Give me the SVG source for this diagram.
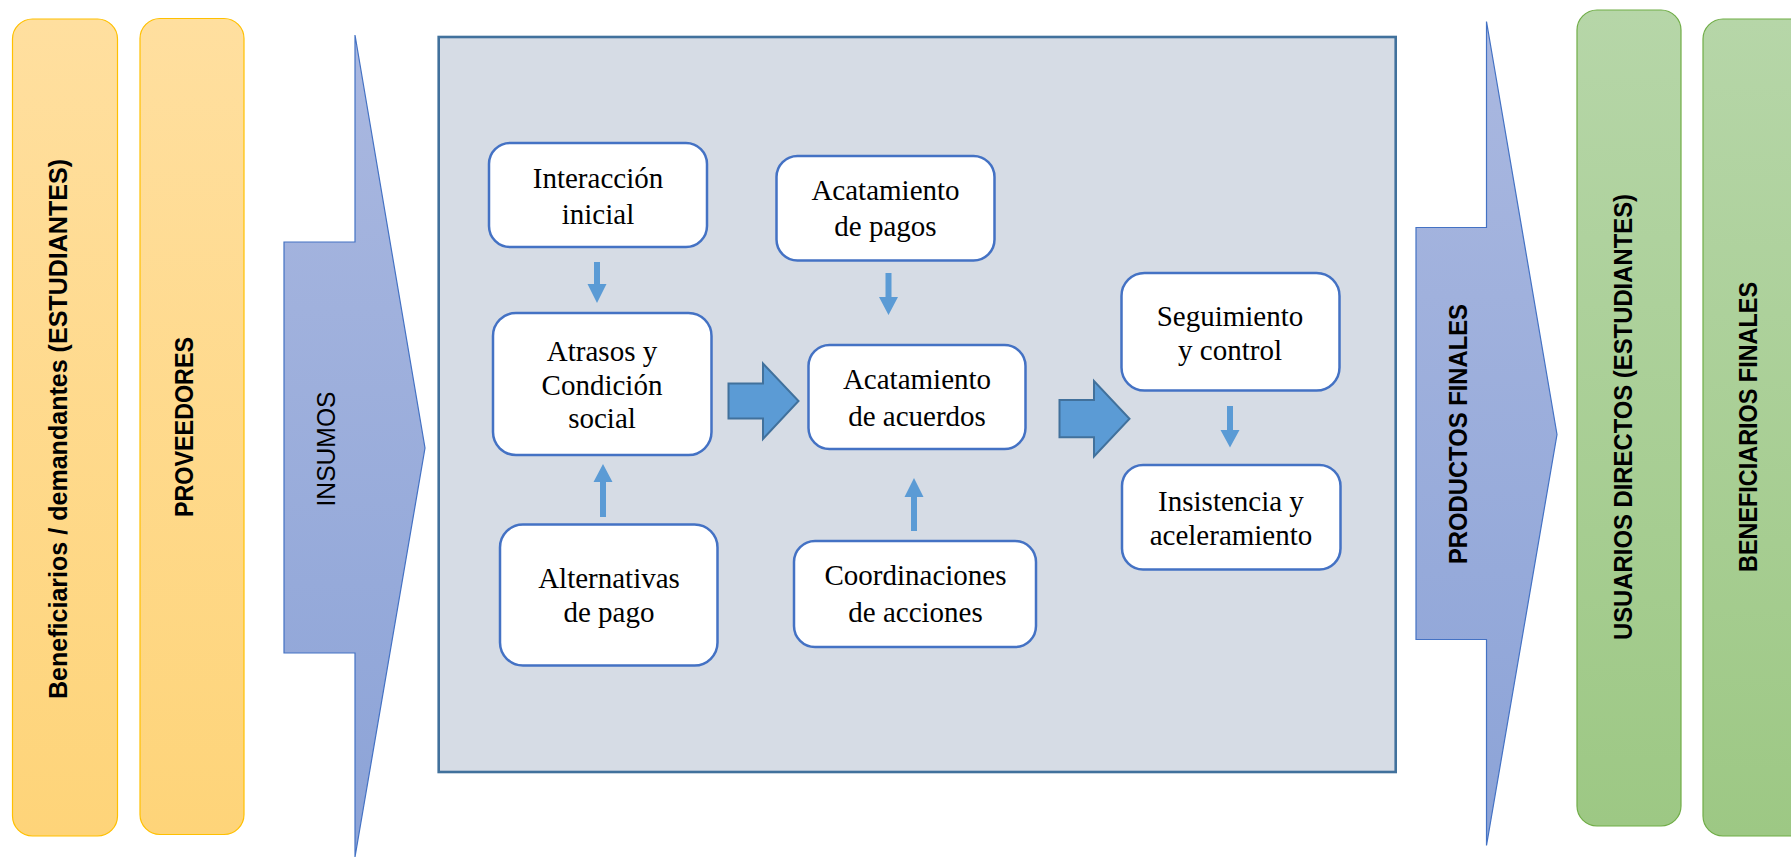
<svg xmlns="http://www.w3.org/2000/svg" width="1791" height="858" viewBox="0 0 1791 858">
<defs>
<linearGradient id="gY" x1="0" y1="0" x2="0" y2="1"><stop offset="0" stop-color="#ffdf9f"/><stop offset="1" stop-color="#fed479"/></linearGradient>
<linearGradient id="gG" x1="0" y1="0" x2="0" y2="1"><stop offset="0" stop-color="#b6d6a8"/><stop offset="1" stop-color="#9dc884"/></linearGradient>
<linearGradient id="gB" x1="0" y1="0" x2="0" y2="1"><stop offset="0" stop-color="#aab8e0"/><stop offset="1" stop-color="#8ca3d7"/></linearGradient>
<style>
.yel{fill:url(#gY);stroke:#ffc000;stroke-width:1.2}
.grn{fill:url(#gG);stroke:#70ad47;stroke-width:1.2}
.big{fill:url(#gB);stroke:#4472c4;stroke-width:1.2}
.side{font-family:"Liberation Sans",Arial,sans-serif;font-size:26px;font-weight:bold;fill:#000;text-anchor:middle}
.sideR{font-family:"Liberation Sans",Arial,sans-serif;font-size:26px;fill:#000;text-anchor:middle}
.node{fill:#fff;stroke:#4472c4;stroke-width:2.5}
.lbl{font-family:"Liberation Serif","Times New Roman",serif;font-size:29px;fill:#000;text-anchor:middle}
.thin{fill:#5b9bd5}
.fat{fill:#5b9bd5;stroke:#41719c;stroke-width:2;stroke-linejoin:miter}
</style>
</defs>
<rect width="1791" height="858" fill="#fff"/>

<g id="beneficiarios">
<rect class="yel" x="12.5" y="19" width="105" height="817" rx="20"/>
<text class="side" transform="translate(67,429) rotate(-90)" textLength="540" lengthAdjust="spacingAndGlyphs">Beneficiarios / demandantes (ESTUDIANTES)</text>
</g>
<g id="proveedores">
<rect class="yel" x="140" y="18.5" width="104" height="816" rx="20"/>
<text class="side" transform="translate(193,427) rotate(-90)" textLength="180" lengthAdjust="spacingAndGlyphs">PROVEEDORES</text>
</g>
<g id="insumos">
<polygon class="big" points="284,242 355,242 355,35 425,448 355,857 355,653 284,653"/>
<text class="sideR" transform="translate(335,449) rotate(-90)" textLength="115" lengthAdjust="spacingAndGlyphs">INSUMOS</text>
</g>
<g id="proceso">
<rect x="438.7" y="37" width="957" height="735" fill="#d6dce5" stroke="#41719c" stroke-width="2.6"/>
</g>
<g id="productos">
<polygon class="big" points="1416,227.5 1486.5,227.5 1486.5,21.5 1557,434.5 1486.5,845.5 1486.5,639.5 1416,639.5"/>
<text class="side" transform="translate(1467,434) rotate(-90)" textLength="260" lengthAdjust="spacingAndGlyphs">PRODUCTOS FINALES</text>
</g>
<g id="usuarios">
<rect class="grn" x="1577" y="10" width="104" height="816" rx="20"/>
<text class="side" transform="translate(1632,417) rotate(-90)" textLength="446" lengthAdjust="spacingAndGlyphs">USUARIOS DIRECTOS (ESTUDIANTES)</text>
</g>
<g id="beneficiariosFinales">
<rect class="grn" x="1703" y="19" width="110" height="817" rx="20"/>
<text class="side" transform="translate(1757,427) rotate(-90)" textLength="290" lengthAdjust="spacingAndGlyphs">BENEFICIARIOS FINALES</text>
</g>

<g id="interaccion">
<rect class="node" x="489" y="143" width="218" height="104" rx="21"/>
<text class="lbl" x="598" y="188">Interacción</text>
<text class="lbl" x="598" y="223.5">inicial</text>
</g>
<g id="acatPagos">
<rect class="node" x="776.5" y="156" width="218" height="104.5" rx="21"/>
<text class="lbl" x="885.5" y="199.5">Acatamiento</text>
<text class="lbl" x="885.5" y="236">de pagos</text>
</g>
<g id="atrasos">
<rect class="node" x="493" y="313" width="218.5" height="142" rx="23"/>
<text class="lbl" x="602" y="361">Atrasos y</text>
<text class="lbl" x="602" y="395">Condición</text>
<text class="lbl" x="602" y="428">social</text>
</g>
<g id="acatAcuerdos">
<rect class="node" x="808.5" y="345" width="217" height="104" rx="21"/>
<text class="lbl" x="917" y="388.5">Acatamiento</text>
<text class="lbl" x="917" y="425.5">de acuerdos</text>
</g>
<g id="alternativas">
<rect class="node" x="500" y="524.5" width="217.5" height="141" rx="23"/>
<text class="lbl" x="609" y="588">Alternativas</text>
<text class="lbl" x="609" y="622">de pago</text>
</g>
<g id="coordinaciones">
<rect class="node" x="794" y="541" width="242" height="106" rx="21"/>
<text class="lbl" x="915.5" y="584.5">Coordinaciones</text>
<text class="lbl" x="915.5" y="622">de acciones</text>
</g>
<g id="seguimiento">
<rect class="node" x="1121.5" y="273" width="218" height="117.5" rx="23"/>
<text class="lbl" x="1230" y="326">Seguimiento</text>
<text class="lbl" x="1230" y="359.5">y control</text>
</g>
<g id="insistencia">
<rect class="node" x="1122" y="465" width="218.5" height="104.5" rx="21"/>
<text class="lbl" x="1231" y="511">Insistencia y</text>
<text class="lbl" x="1231" y="545">aceleramiento</text>
</g>

<g id="connectors">
<polygon class="thin" points="594,262 600,262 600,284 606.5,284 597,303 587.5,284 594,284"/>
<polygon class="thin" points="885.5,273 891.5,273 891.5,297 898,297 888.5,315 879,297 885.5,297"/>
<polygon class="thin" points="600,517 606,517 606,482 612.5,482 603,464 593.5,482 600,482"/>
<polygon class="thin" points="911,531 917,531 917,497 923.5,497 914,478 904.5,497 911,497"/>
<polygon class="thin" points="1227,406 1233,406 1233,430 1239.5,430 1230,447.5 1220.5,430 1227,430"/>
<polygon class="fat" points="728.5,383.5 763,383.5 763,363.5 798.5,401 763,439 763,418.5 728.5,418.5"/>
<polygon class="fat" points="1059.5,400 1094,400 1094,381 1129.5,418.7 1094,456.5 1094,437.3 1059.5,437.3"/>
</g>
</svg>
